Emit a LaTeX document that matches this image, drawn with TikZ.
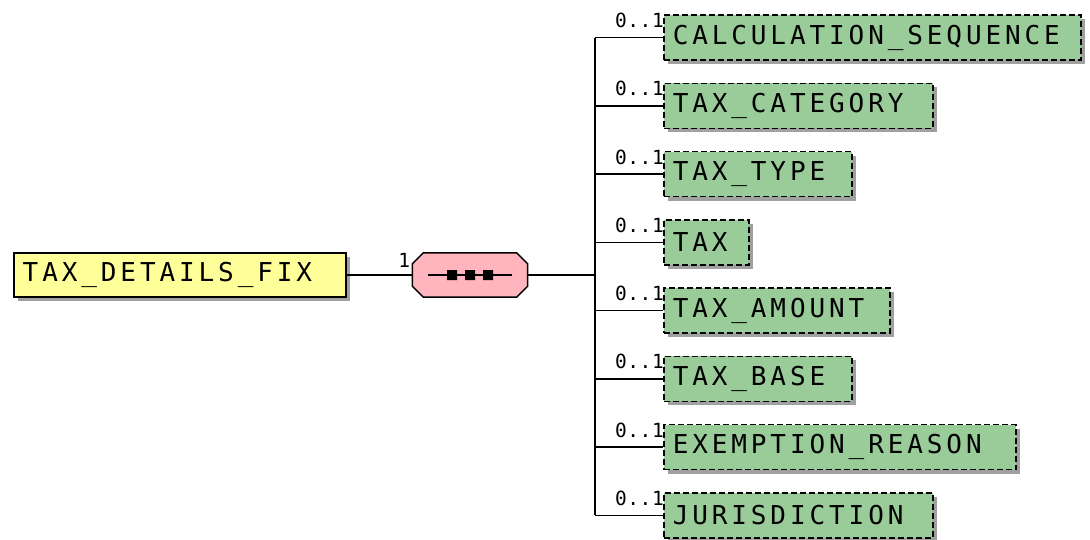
\documentclass[tikz,border=0pt]{standalone}
\usepackage{fontspec}
\usepackage{tikz}
\usetikzlibrary{positioning,shadows}
\newfontfamily\xsdfont[LetterSpace=15]{DejaVu Sans Mono}
\newfontfamily\multfont[LetterSpace=3]{DejaVu Sans Mono}
\definecolor{RootYellow}{HTML}{FFFF99}
\definecolor{SeqPink}{HTML}{FFB4BE}
\definecolor{ElemGreen}{HTML}{99CC99}
\definecolor{ShadowGray}{HTML}{A0A0A0}
\tikzset{
  boxshadow/.style={general shadow={fill=ShadowGray,shadow xshift=4pt,shadow yshift=-4pt}},
  rootbox/.style={draw,line width=1.5pt,fill=RootYellow,boxshadow,anchor=west,
    minimum height=44pt,inner xsep=9pt,align=left,font=\xsdfont\fontsize{26}{30}\selectfont},
  elembox/.style={draw,line width=1.5pt,dash pattern=on 6pt off 3pt,fill=ElemGreen,boxshadow,
    anchor=west,minimum height=45pt,inner xsep=9pt,align=left,font=\xsdfont\fontsize{26}{30}\selectfont},
  seqbox/.style={minimum width=115pt,minimum height=44pt,inner sep=0pt},
  seqoutline/.style={line width=1.5pt,fill=SeqPink},
  mult/.style={inner sep=0pt,font=\multfont\fontsize{19.5}{22}\selectfont},
  wire/.style={line width=1.5pt}
}
\begin{document}
\begin{tikzpicture}[x=1pt,y=-1pt]
\useasboundingbox[fill=white] (0,0) rectangle (1090,539);
% root element and sequence
\node[rootbox,text width=314pt] (root) at (13,275) {TAX\_DETAILS\_FIX};
\node[seqbox] (seq) at (470,275) {};
\fill[ShadowGray,shift={(4,4)}] ([xshift=11pt]seq.north west) -- ([xshift=-11pt]seq.north east)
  -- ([yshift=-11pt]seq.north east) -- ([yshift=11pt]seq.south east) -- ([xshift=-11pt]seq.south east)
  -- ([xshift=11pt]seq.south west) -- ([yshift=11pt]seq.south west) -- ([yshift=-11pt]seq.north west) -- cycle;
\filldraw[seqoutline] ([xshift=11pt]seq.north west) -- ([xshift=-11pt]seq.north east)
  -- ([yshift=-11pt]seq.north east) -- ([yshift=11pt]seq.south east) -- ([xshift=-11pt]seq.south east)
  -- ([xshift=11pt]seq.south west) -- ([yshift=11pt]seq.south west) -- ([yshift=-11pt]seq.north west) -- cycle;
\draw[wire] (root.east) -- (seq.west);
\node[mult,anchor=base east] (seqmult) at ([xshift=-2pt,yshift=8pt]seq.west) {1};
\draw[wire] ([xshift=16pt]seq.west) -- ([xshift=-16pt]seq.east);
\foreach \dx in {-18,0,18}
  \fill ([xshift=\dx pt]seq.center) rectangle +(-5,-5) rectangle +(5,5);
% bus
\coordinate (bustop) at (595,37.5);
\coordinate (busbot) at (595,515.25);
\draw[wire] (bustop) -- (busbot);
\draw[wire] (seq.east) -- (seq.east -| bustop);
% child elements
\foreach \i/\w/\name in {1/417/CALCULATION\_SEQUENCE,2/269/TAX\_CATEGORY,3/188/TAX\_TYPE,
    4/85/TAX,5/226/TAX\_AMOUNT,6/188/TAX\_BASE,7/352/EXEMPTION\_REASON,8/269/JURISDICTION}{
  \node[elembox,text width=\w pt-18pt] (c\i) at (663,{37.5+68.25*(\i-1)}) {\name};
  \draw[wire] (c\i.west) -- (c\i.west -| bustop);
  \node[mult,anchor=base east] (m\i) at ([xshift=1pt,yshift=10pt]c\i.west) {0..1};
}
\end{tikzpicture}
\end{document}
